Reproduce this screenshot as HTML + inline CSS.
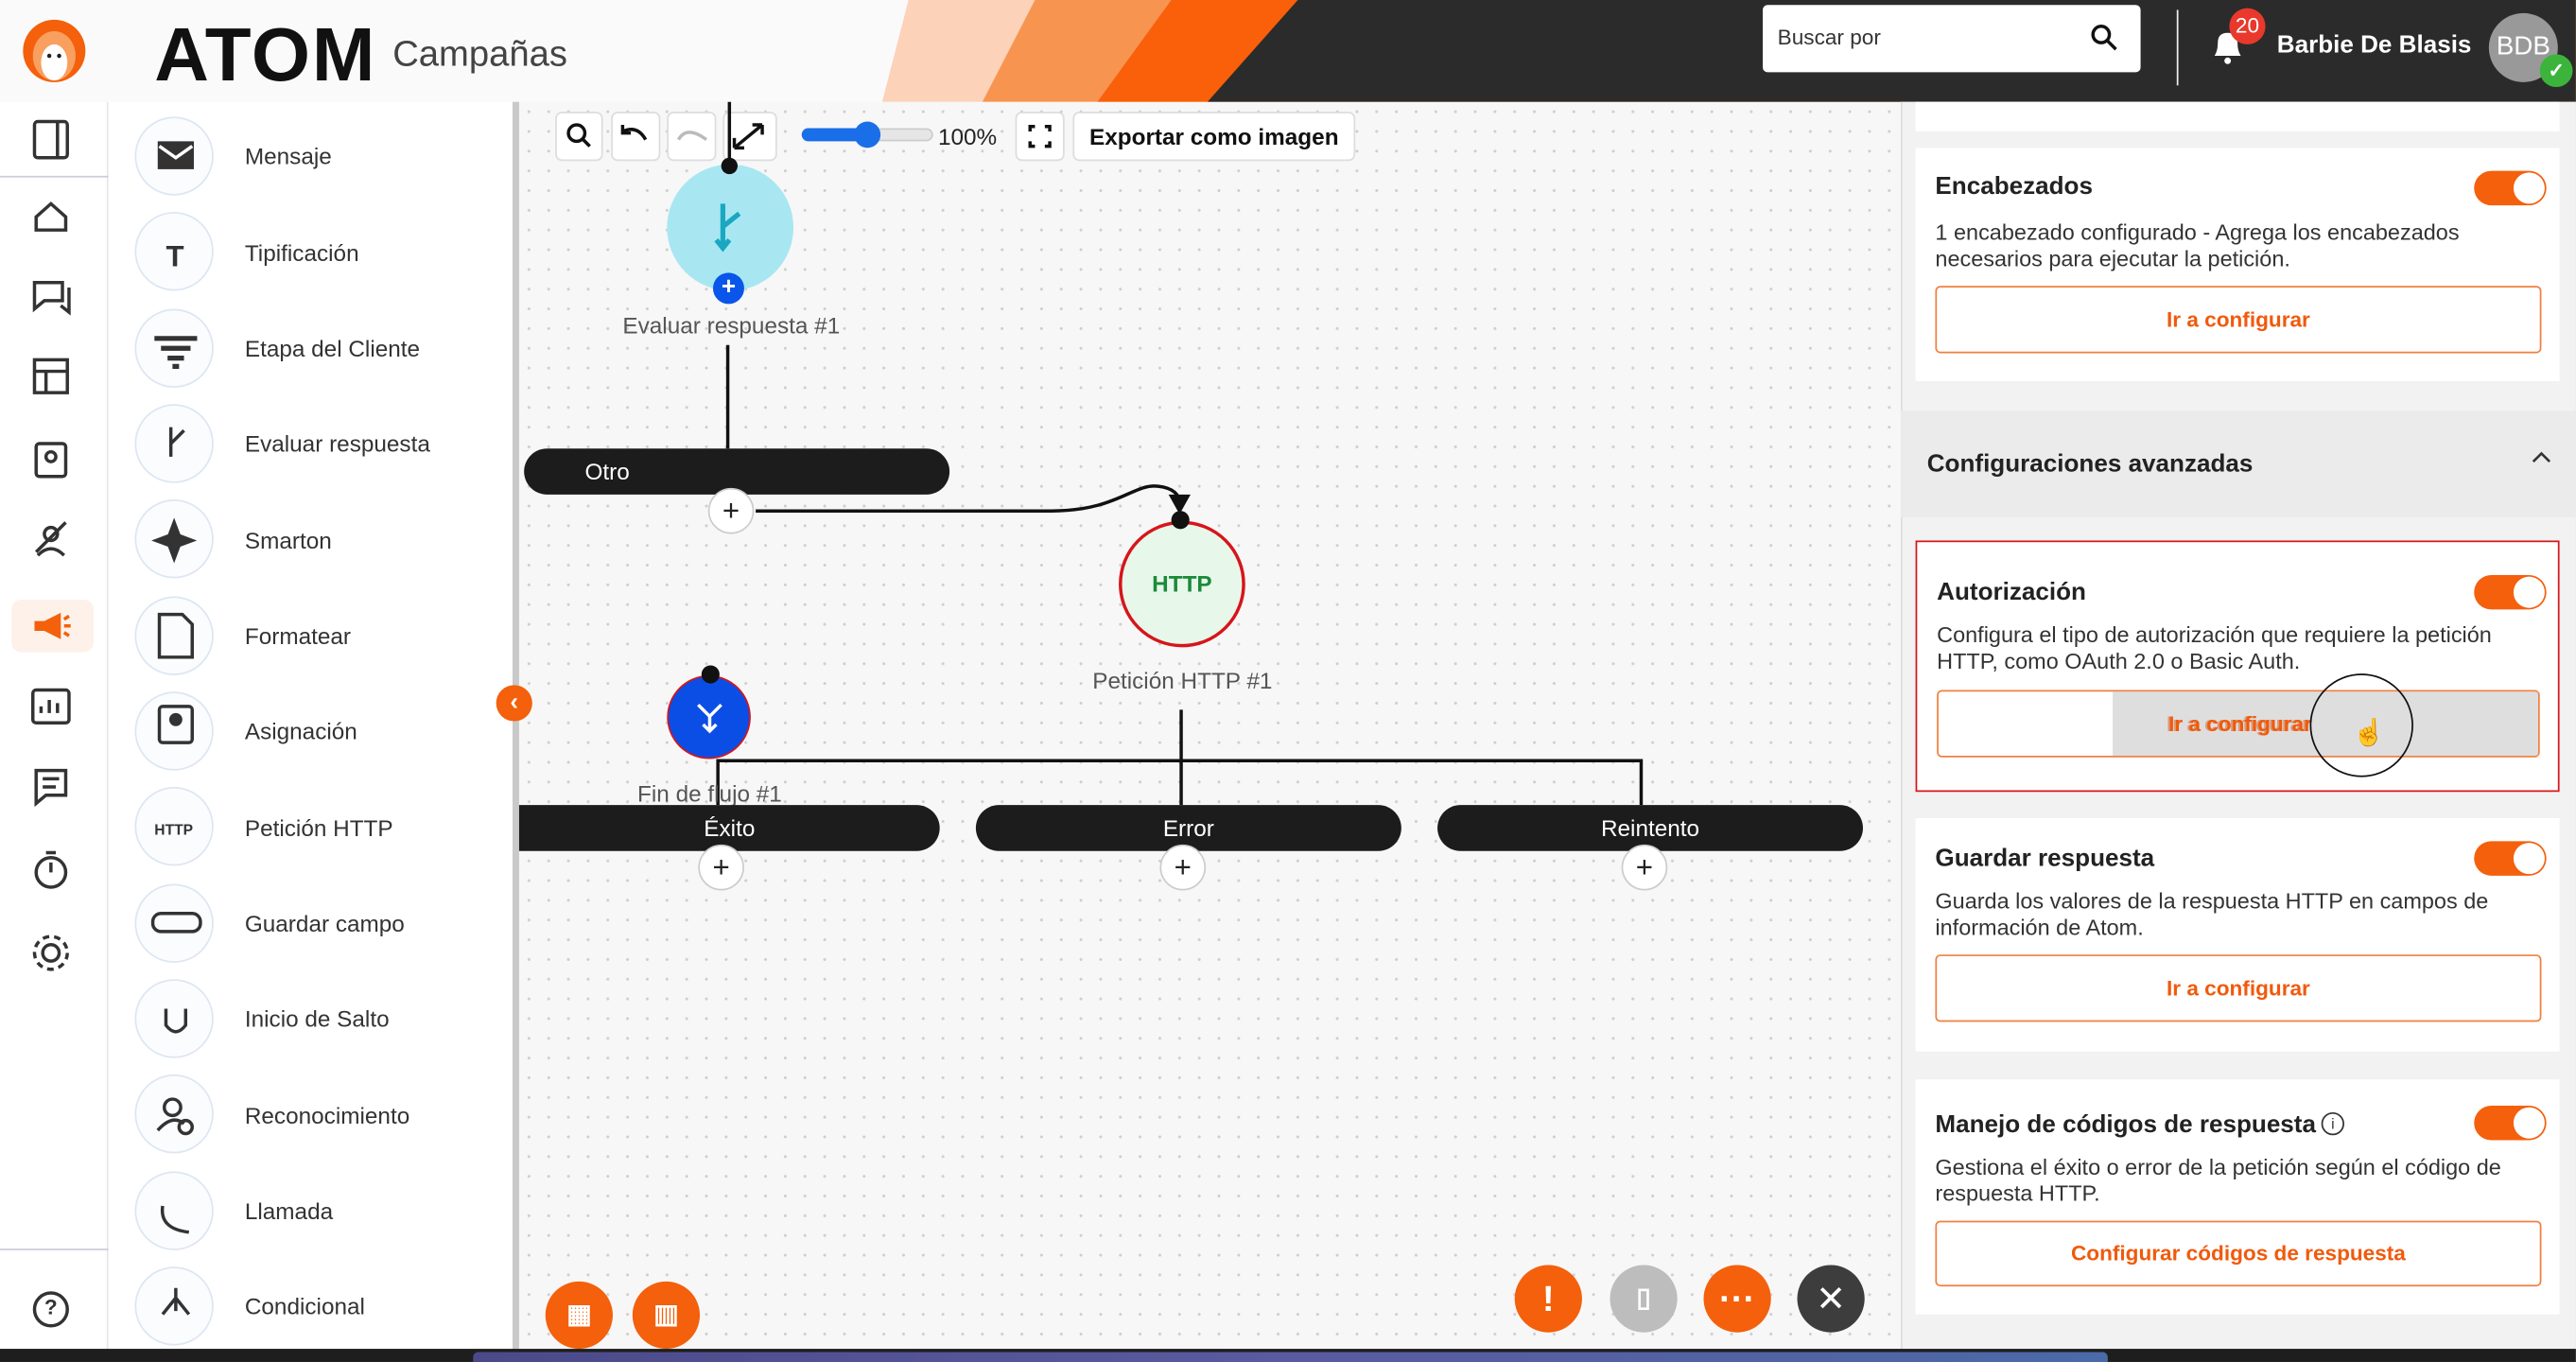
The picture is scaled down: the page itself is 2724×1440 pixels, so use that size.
<!DOCTYPE html>
<html><head><meta charset="utf-8">
<style>
*{box-sizing:border-box;margin:0;padding:0}
html,body{width:2724px;height:1440px;overflow:hidden;background:#222}
#w{position:absolute;left:0;top:0;width:1568px;height:829px;transform:scale(1.7372,1.7370);transform-origin:0 0;font-family:"Liberation Sans",sans-serif;background:#f6f6f6;overflow:hidden}
.a{position:absolute}
.t{position:absolute;white-space:nowrap}
.pal{position:absolute;left:82px;width:48px;height:48px;border-radius:50%;border:1px solid #dde6f3;background:#fbfcfe}
.pl{position:absolute;left:149px;font-size:14px;color:#333}
.tb{position:absolute;top:68px;height:30px;background:#fff;border:1px solid #ddd;border-radius:4px}
.pill{position:absolute;height:28px;background:#1c1c1c;border-radius:14px;color:#fff;font-size:14px;line-height:28px;text-align:center}
.plus{position:absolute;width:28px;height:28px;border-radius:50%;background:#fff;border:1px solid #ccc;text-align:center;line-height:26px;font-size:18px;color:#222}
.card{position:absolute;left:1166px;width:392px;background:#fff}
.ct{position:absolute;font-size:15px;font-weight:bold;color:#222}
.cx{position:absolute;font-size:13.5px;color:#333;line-height:16px;width:356px}
.tg{position:absolute;width:44px;height:21px;border-radius:11px;background:#f4600c}
.tg:after{content:"";position:absolute;right:1px;top:1px;width:19px;height:19px;border-radius:50%;background:#fff}
.btn{position:absolute;border:1px solid #f08040;border-radius:3px;color:#f05a0c;font-weight:bold;font-size:13px;text-align:center;background:#fff}
.fb{position:absolute;width:41px;height:41px;border-radius:50%;color:#fff;text-align:center;line-height:41px;font-size:22px;font-weight:bold}
</style></head><body><div id="w">
<div class="a" style="left:316px;top:62px;width:842px;height:760px;background-color:#f7f7f7;background-image:radial-gradient(#cfcfcf 0.8px,transparent 1px);background-size:12px 12px"></div>
<div class="a" style="left:0;top:0;width:1568px;height:62px;background:#fafafa"></div>
<svg class="a" style="left:0;top:0" width="1568" height="62">
<polygon points="553,0 1568,0 1568,62 537,62" fill="#fcd2b8"/>
<polygon points="630,0 1568,0 1568,62 598,62" fill="#f79550"/>
<polygon points="713,0 1568,0 1568,62 668,62" fill="#fa5f0a"/>
<polygon points="790,0 1568,0 1568,62 735,62" fill="#2b2b2b"/>
<circle cx="33" cy="31" r="19" fill="#f4600c"/><ellipse cx="33" cy="34" rx="13" ry="15" fill="#f9a060"/><ellipse cx="33" cy="38" rx="8" ry="11" fill="#fff"/>
<circle cx="30" cy="34" r="1.3" fill="#222"/><circle cx="36" cy="34" r="1.3" fill="#222"/>
</svg>
<div class="t" style="left:94px;top:6px;font-size:46px;font-weight:900;color:#111;letter-spacing:1px">ATOM</div>
<div class="t" style="left:239px;top:20px;font-size:22px;color:#444">Campañas</div>
<div class="a" style="left:1073px;top:3px;width:230px;height:41px;background:#fff;border-radius:3px"></div>
<div class="t" style="left:1082px;top:15px;font-size:13px;color:#333">Buscar por</div>
<svg class="a" style="left:1272px;top:14px" width="18" height="18"><circle cx="7" cy="7" r="5" stroke="#111" stroke-width="2" fill="none"/><line x1="11" y1="11" x2="16" y2="16" stroke="#111" stroke-width="2"/></svg>
<div class="a" style="left:1325px;top:6px;width:1px;height:46px;background:#eee"></div>
<svg class="a" style="left:1345px;top:17px" width="22" height="24"><path d="M3 17 Q5 14 5 9 Q5 3 11 3 Q17 3 17 9 Q17 14 19 17 Z" fill="#fff"/><circle cx="11" cy="20" r="2" fill="#fff"/></svg>
<div class="a" style="left:1357px;top:5px;width:22px;height:22px;border-radius:50%;background:#e8392c;color:#fff;font-size:13px;text-align:center;line-height:22px">20</div>
<div class="t" style="left:1386px;top:19px;font-size:15px;font-weight:bold;color:#fff">Barbie De Blasis</div>
<div class="a" style="left:1515px;top:8px;width:42px;height:42px;border-radius:50%;background:#999;color:#fff;font-size:16px;text-align:center;line-height:42px">BDB</div>
<div class="a" style="left:1546px;top:33px;width:20px;height:20px;border-radius:50%;background:#3cb43c;color:#fff;font-size:12px;text-align:center;line-height:20px;font-weight:bold">✓</div>
<div class="a" style="left:0;top:62px;width:66px;height:760px;background:#fff;border-right:1px solid #e6e6e6"></div>
<div class="a" style="left:0;top:107px;width:66px;height:1px;background:#ccd"></div>
<div class="a" style="left:0;top:760px;width:66px;height:1px;background:#ccd"></div>
<svg class="a" style="left:0;top:62px" width="66" height="760" fill="none" stroke="#333" stroke-width="2">
<rect x="21" y="12" width="20" height="22" rx="2"/><line x1="35" y1="12" x2="35" y2="34"/>
<path d="M22 70 L31 62 L40 70 V78 H22 Z"/>
<path d="M21 110 H38 V121 H27 L21 126 Z"/><path d="M42 113 V128 L37 124"/>
<rect x="21" y="157" width="20" height="20"/><line x1="21" y1="164" x2="41" y2="164"/><line x1="28" y1="164" x2="28" y2="177"/>
<rect x="22" y="208" width="18" height="20" rx="2"/><circle cx="31" cy="216" r="3"/>
<path d="M22 274 L40 256"/><circle cx="31" cy="263" r="4"/><path d="M23 276 Q31 268 39 276"/>
<rect x="20" y="358" width="22" height="20" rx="2"/><path d="M25 372 V368 M30 372 V364 M35 372 V366"/>
<path d="M22 407 H40 V422 H28 L22 427 Z"/><path d="M26 412 H36 M26 417 H34"/>
<circle cx="31" cy="469" r="9"/><path d="M31 469 V463 M28 457 H34"/>
<circle cx="31" cy="518" r="5"/><circle cx="31" cy="518" r="10" stroke-dasharray="4 3"/>
<circle cx="31" cy="735" r="10"/>
</svg>
<div class="a" style="left:7px;top:365px;width:50px;height:32px;background:#fdf1ea;border-radius:6px"></div>
<svg class="a" style="left:18px;top:370px" width="26" height="22"><path d="M3 8 H9 L19 3 V19 L9 14 H3 Z" fill="#f4600c"/><path d="M21 7 L24 5 M21 11 H25 M21 15 L24 17" stroke="#f4600c" stroke-width="2"/></svg>
<div class="t" style="left:27px;top:788px;font-size:13px;font-weight:bold;color:#333">?</div>
<div class="a" style="left:66px;top:62px;width:248px;height:760px;background:#fff"></div>
<div class="a" style="left:312px;top:62px;width:4px;height:760px;background:#c9c9c9"></div>
<div class="pal" style="top:71px"></div><div class="pl" style="top:87px">Mensaje</div>
<div class="pal" style="top:129px"></div><div class="pl" style="top:146px">Tipificación</div>
<div class="pal" style="top:188px"></div><div class="pl" style="top:204px">Etapa del Cliente</div>
<div class="pal" style="top:246px"></div><div class="pl" style="top:262px">Evaluar respuesta</div>
<div class="pal" style="top:304px"></div><div class="pl" style="top:321px">Smarton</div>
<div class="pal" style="top:363px"></div><div class="pl" style="top:379px">Formatear</div>
<div class="pal" style="top:421px"></div><div class="pl" style="top:437px">Asignación</div>
<div class="pal" style="top:479px"></div><div class="pl" style="top:496px">Petición HTTP</div>
<div class="pal" style="top:538px"></div><div class="pl" style="top:554px">Guardar campo</div>
<div class="pal" style="top:596px"></div><div class="pl" style="top:612px">Inicio de Salto</div>
<div class="pal" style="top:654px"></div><div class="pl" style="top:671px">Reconocimiento</div>
<div class="pal" style="top:713px"></div><div class="pl" style="top:729px">Llamada</div>
<div class="pal" style="top:771px"></div><div class="pl" style="top:787px">Condicional</div>
<svg class="a" style="left:82px;top:62px" width="50" height="760" fill="none" stroke="#333" stroke-width="2">
<rect x="15" y="25" width="20" height="15" fill="#333"/><path d="M15 27 L25 34 L35 27" stroke="#fff"/>
<text x="19" y="100" font-family="Liberation Sans" font-size="18" font-weight="bold" fill="#333" stroke="none">T</text>
<path d="M12 144 H38 M16 150 H34 M20 156 H30 M23 161 H27" stroke-width="3"/>
<path d="M22 198 V216 M22 208 L30 200"/>
<path d="M24 256 L27 264 L35 267 L27 270 L24 278 L21 270 L13 267 L21 264 Z" fill="#333"/>
<path d="M15 312 H29 L35 318 V338 H15 Z"/>
<rect x="15" y="368" width="20" height="22" rx="2"/><circle cx="25" cy="376" r="3" fill="#333"/>
<text x="12" y="446" font-family="Liberation Sans" font-size="9" font-weight="bold" fill="#333" stroke="none">HTTP</text>
<rect x="11" y="494" width="29" height="11" rx="5"/>
<path d="M19 552 V562 Q25 570 31 562 V552"/>
<circle cx="23" cy="612" r="5"/><path d="M14 626 Q23 616 30 622"/><circle cx="31" cy="624" r="4"/>
<path d="M17 672 Q15 686 33 688"/>
<path d="M25 722 V736 M25 728 L17 738 M25 728 L33 738"/>
</svg>
<div class="a" style="left:302px;top:417px;width:22px;height:22px;border-radius:50%;background:#f4600c;color:#fff;text-align:center;line-height:21px;font-size:15px;font-weight:bold">‹</div>
<div class="tb" style="left:338px;width:29px"></div><div class="tb" style="left:372px;width:30px"></div><div class="tb" style="left:406px;width:30px"></div><div class="tb" style="left:440px;width:33px"></div>
<svg class="a" style="left:338px;top:68px" width="140" height="30" fill="none" stroke="#111" stroke-width="2">
<circle cx="13" cy="13" r="5"/><line x1="17" y1="17" x2="21" y2="21"/>
<path d="M41 12 Q50 8 55 17" /><path d="M41 8 V13 H46"/>
<path d="M92 17 Q80 8 75 17" stroke="#bbb"/>
<path d="M109 22 L126 8 M109 22 V16 M109 22 H115 M126 8 H120 M126 8 V14"/>
</svg>
<div class="a" style="left:488px;top:78px;width:80px;height:8px;border-radius:4px;background:#e6e6e6;border:1px solid #ccc"></div>
<div class="a" style="left:488px;top:78px;width:40px;height:8px;border-radius:4px;background:#1a6ee8"></div>
<div class="a" style="left:520px;top:74px;width:16px;height:16px;border-radius:50%;background:#1a6ee8"></div>
<div class="t" style="left:571px;top:75px;font-size:14px;color:#222">100%</div>
<div class="tb" style="left:618px;width:30px"></div>
<svg class="a" style="left:618px;top:68px" width="30" height="30" fill="none" stroke="#111" stroke-width="2"><path d="M9 12 V9 H12 M18 9 H21 V12 M21 18 V21 H18 M12 21 H9 V18"/></svg>
<div class="tb" style="left:653px;width:172px;font-size:14px;font-weight:bold;color:#111;text-align:center;line-height:28px">Exportar como imagen</div>
<svg class="a" style="left:0;top:0" width="1160" height="829" fill="none" stroke="#111" stroke-width="2">
<line x1="444" y1="62" x2="444" y2="100"/>
<line x1="443" y1="210" x2="443" y2="273"/>
<path d="M460 311 H640 C680 311 690 294 705 296 C714 297 718 301 718 306"/>
<path d="M713 302 L718 311 L723 302 Z" fill="#111"/>
<line x1="719" y1="432" x2="719" y2="490"/>
<path d="M437 490 V463 H999 V490"/>
</svg>
<div class="a" style="left:406px;top:100px;width:77px;height:77px;border-radius:50%;background:#a8e7f1"></div>
<svg class="a" style="left:430px;top:120px" width="30" height="36" fill="none" stroke="#1aa7c2" stroke-width="3"><path d="M10 4 V30 M10 18 L20 10"/><path d="M6 26 L10 31 L14 26"/></svg>
<div class="a" style="left:439px;top:96px;width:10px;height:10px;border-radius:50%;background:#111"></div>
<div class="a" style="left:434px;top:166px;width:19px;height:19px;border-radius:50%;background:#0a55ea;color:#fff;text-align:center;line-height:18px;font-size:15px;font-weight:bold">+</div>
<div class="t" style="left:379px;top:190px;font-size:14px;color:#555">Evaluar respuesta #1</div>
<div class="pill" style="left:319px;top:273px;width:259px;text-align:left;padding-left:37px">Otro</div>
<div class="plus" style="left:431px;top:297px">+</div>
<div class="a" style="left:681px;top:317px;width:77px;height:77px;border-radius:50%;background:#e7f7ea;border:2px solid #d6151b;color:#1b8a3a;font-weight:bold;font-size:14px;text-align:center;line-height:73px">HTTP</div>
<div class="a" style="left:713px;top:311px;width:11px;height:11px;border-radius:50%;background:#111"></div>
<div class="t" style="left:665px;top:406px;font-size:14px;color:#555">Petición HTTP #1</div>
<div class="a" style="left:406px;top:411px;width:51px;height:51px;border-radius:50%;background:#0b4ee6;border:1.5px solid #d6151b"></div>
<svg class="a" style="left:420px;top:425px" width="24" height="24" fill="none" stroke="#fff" stroke-width="2"><path d="M5 4 L12 11 L19 4 M12 11 V20 M8 16 L12 20 L16 16"/></svg>
<div class="a" style="left:427px;top:405px;width:11px;height:11px;border-radius:50%;background:#111"></div>
<div class="t" style="left:388px;top:475px;font-size:14px;color:#555">Fin de flujo #1</div>
<div class="pill" style="left:316px;top:490px;width:256px;border-radius:0 14px 14px 0">Éxito</div>
<div class="pill" style="left:594px;top:490px;width:259px">Error</div>
<div class="pill" style="left:875px;top:490px;width:259px">Reintento</div>
<div class="plus" style="left:425px;top:514px">+</div>
<div class="plus" style="left:706px;top:514px">+</div>
<div class="plus" style="left:987px;top:514px">+</div>
<div class="fb" style="left:332px;top:780px;background:#f4600c;font-size:16px">▦</div>
<div class="fb" style="left:385px;top:780px;background:#f4600c;font-size:16px">▥</div>
<div class="fb" style="left:922px;top:770px;background:#f4600c">!</div>
<div class="fb" style="left:980px;top:770px;background:#bdbdbd;font-size:16px">▯</div>
<div class="fb" style="left:1037px;top:770px;background:#f4600c">···</div>
<div class="fb" style="left:1094px;top:770px;background:#3d3d3d;font-weight:normal">✕</div>
<div class="a" style="left:1157px;top:62px;width:411px;height:760px;background:#f2f2f2;border-left:1px solid #ddd"></div>
<div class="card" style="top:62px;height:18px"></div>
<div class="card" style="top:90px;height:142px"></div>
<div class="ct" style="left:1178px;top:105px">Encabezados</div>
<div class="tg" style="left:1506px;top:104px"></div>
<div class="cx" style="left:1178px;top:134px">1 encabezado configurado - Agrega los encabezados necesarios para ejecutar la petición.</div>
<div class="btn" style="left:1178px;top:174px;width:369px;height:41px;line-height:39px">Ir a configurar</div>
<div class="a" style="left:1157px;top:250px;width:411px;height:65px;background:#ebebeb"></div>
<div class="ct" style="left:1173px;top:274px">Configuraciones avanzadas</div>
<svg class="a" style="left:1540px;top:273px" width="14" height="10" fill="none" stroke="#333" stroke-width="1.5"><path d="M2 8 L7 3 L12 8"/></svg>
<div class="card" style="top:329px;height:153px;border:1px solid #d6151b"></div>
<div class="ct" style="left:1179px;top:352px">Autorización</div>
<div class="tg" style="left:1506px;top:350px"></div>
<div class="cx" style="left:1179px;top:379px">Configura el tipo de autorización que requiere la petición HTTP, como OAuth 2.0 o Basic Auth.</div>
<div class="btn" style="left:1179px;top:420px;width:367px;height:41px;line-height:39px">Ir a configurar</div>
<div class="a" style="left:1286px;top:421px;width:259px;height:39px;background:rgba(200,200,200,0.6)"></div>
<div class="t" style="left:1320px;top:433px;font-size:13px;font-weight:bold;color:#f05a0c">Ir a configurar</div>
<div class="a" style="left:1406px;top:410px;width:63px;height:63px;border-radius:50%;border:1.5px solid #111"></div>
<div class="t" style="left:1432px;top:436px;font-size:16px;color:#222">☝</div>
<div class="card" style="top:498px;height:142px"></div>
<div class="ct" style="left:1178px;top:514px">Guardar respuesta</div>
<div class="tg" style="left:1506px;top:512px"></div>
<div class="cx" style="left:1178px;top:541px">Guarda los valores de la respuesta HTTP en campos de información de Atom.</div>
<div class="btn" style="left:1178px;top:581px;width:369px;height:41px;line-height:39px">Ir a configurar</div>
<div class="card" style="top:657px;height:143px"></div>
<div class="ct" style="left:1178px;top:676px">Manejo de códigos de respuesta</div>
<div class="a" style="left:1413px;top:677px;width:14px;height:14px;border-radius:50%;border:1.3px solid #333;font-size:9px;text-align:center;line-height:12px;color:#333">i</div>
<div class="tg" style="left:1506px;top:673px"></div>
<div class="cx" style="left:1178px;top:703px">Gestiona el éxito o error de la petición según el código de respuesta HTTP.</div>
<div class="btn" style="left:1178px;top:743px;width:369px;height:40px;line-height:38px">Configurar códigos de respuesta</div>
<div class="a" style="left:0;top:821px;width:1568px;height:8px;background:#1e1e1e"></div>
<div class="a" style="left:288px;top:823px;width:995px;height:6px;background:linear-gradient(90deg,#4a4a8a,#5a5aa0,#4a6aa8);border-radius:3px 3px 0 0"></div>
</div></body></html>
